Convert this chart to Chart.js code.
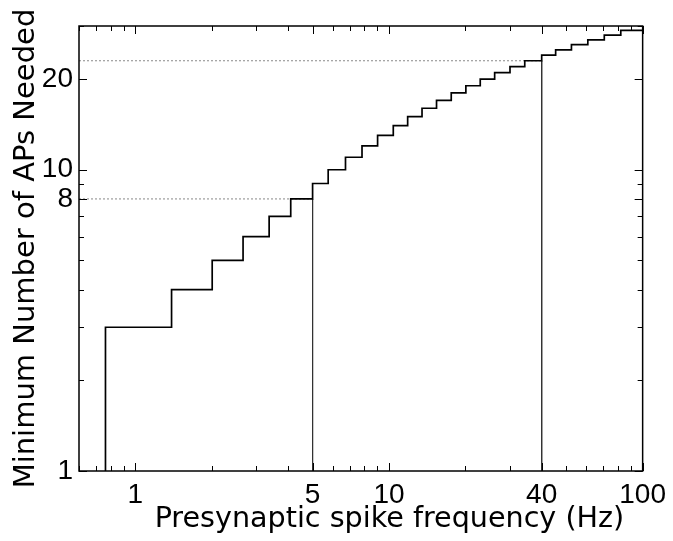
<!DOCTYPE html>
<html>
<head>
<meta charset="utf-8">
<script src="https://cdn.jsdelivr.net/npm/chart.js@4/dist/chart.umd.min.js"></script>
<style>
  body { margin: 0; background: #fff; }
  #apChart { display: block; }
</style>
</head>
<body>
<canvas id="apChart" width="673" height="541"></canvas>
<script>
// Frequency (Hz) at which the required AP count steps up, and the new count
const stepFreqs = [0.763, 0.763, 1.39, 2.01, 2.66, 3.37, 4.10, 5.0, 5.76, 6.74, 7.83, 9.02,
  10.4, 11.85, 13.5, 15.4, 17.6, 20.1, 22.9, 26.1, 30.0, 34.3, 40.0, 45.4, 52.4, 60.8,
  70.6, 82.0, 95.3, 100];
const apCounts = [1, 2, 3, 4, 5, 6, 7, 8, 9, 10, 11, 12, 13, 14, 15, 16, 17, 18, 19, 20,
  21, 22, 23, 24, 25, 26, 27, 28, 29, 29];

// marked operating points (5 Hz -> 8 APs, 40 Hz -> 23 APs)
const refFreqs = [5, 40];
const refCounts = [8, 23];

const xTickLabels = [1, 5, 10, 40, 100];
const yTickLabels = [1, 8, 10, 20];
const xRange = [0.6, 100];
const yRange = [1, 30];

const TICK_FONT = "'Liberation Sans', Arial, Helvetica, sans-serif";
const TITLE_FONT = "'DejaVu Sans', 'Liberation Sans', sans-serif";

const stepData = stepFreqs.map((f, i) => ({ x: f, y: apCounts[i] }));

const refDatasets = refFreqs.map((f, i) => ({
  data: [{ x: xRange[0], y: refCounts[i] }, { x: f, y: refCounts[i] }, { x: f, y: yRange[0] }],
  borderColor: '#333',
  borderWidth: 1,
  pointRadius: 0,
  segment: {
    borderDash: ctx => ctx.p0.parsed.y === ctx.p1.parsed.y ? [2, 2] : undefined,
    borderColor: ctx => ctx.p0.parsed.y === ctx.p1.parsed.y ? '#888' : '#333'
  }
}));

// inward tick marks on all four sides plus the axes box
const boxTicks = {
  id: 'boxTicks',
  afterDatasetsDraw(chart) {
    const { ctx, chartArea: a, scales: { x, y } } = chart;
    ctx.save();
    ctx.strokeStyle = '#000';
    ctx.lineWidth = 1;
    ctx.beginPath();
    for (let d = -1; d <= 2; d++) {
      for (let k = 1; k <= 9; k++) {
        const v = k * Math.pow(10, d);
        if (v >= xRange[0] && v <= xRange[1]) {
          const px = Math.round(x.getPixelForValue(v)) + 0.5;
          const len = xTickLabels.includes(v) ? 8 : 5;
          ctx.moveTo(px, a.bottom); ctx.lineTo(px, a.bottom - len);
          ctx.moveTo(px, a.top); ctx.lineTo(px, a.top + len);
        }
        if (v >= yRange[0] && v <= yRange[1]) {
          const py = Math.round(y.getPixelForValue(v)) + 0.5;
          const len = yTickLabels.includes(v) ? 8 : 5;
          ctx.moveTo(a.left, py); ctx.lineTo(a.left + len, py);
          ctx.moveTo(a.right, py); ctx.lineTo(a.right - len, py);
        }
      }
    }
    ctx.stroke();
    ctx.lineWidth = 1.5;
    ctx.strokeRect(a.left, a.top, a.right - a.left, a.bottom - a.top);
    ctx.restore();
  }
};

new Chart(document.getElementById('apChart').getContext('2d'), {
  type: 'line',
  data: {
    datasets: [
      {
        data: stepData,
        stepped: 'after',
        borderColor: '#000',
        borderWidth: 1.7,
        pointRadius: 0,
        fill: false
      },
      ...refDatasets
    ]
  },
  options: {
    responsive: false,
    animation: false,
    devicePixelRatio: 1,
    layout: { padding: { top: 26, right: 27, left: 0, bottom: 0 } },
    plugins: { legend: { display: false }, tooltip: { enabled: false } },
    scales: {
      x: {
        type: 'logarithmic',
        min: xRange[0],
        max: xRange[1],
        grid: { display: false, drawTicks: false },
        border: { display: false },
        afterBuildTicks: s => { s.ticks = xTickLabels.map(v => ({ value: v })); },
        afterFit: s => { s.height = 70; },
        ticks: {
          autoSkip: false,
          maxRotation: 0,
          padding: 7,
          color: '#000',
          font: { family: TICK_FONT, size: 28 },
          callback: v => String(v)
        },
        title: {
          display: true,
          // the label sits right of the axis centre in the original
          text: '\u2003\u2003Presynaptic spike frequency (Hz)',
          color: '#000',
          font: { family: TITLE_FONT, size: 28.6 },
          padding: { top: 0, bottom: 4.4 }
        }
      },
      y: {
        type: 'logarithmic',
        min: yRange[0],
        max: yRange[1],
        grid: { display: false, drawTicks: false },
        border: { display: false },
        afterBuildTicks: s => { s.ticks = yTickLabels.map(v => ({ value: v })); },
        afterFit: s => { s.width = 79; },
        ticks: {
          autoSkip: false,
          padding: 6,
          color: '#000',
          font: { family: TICK_FONT, size: 28 },
          callback: v => String(v)
        },
        title: {
          display: true,
          text: 'Minimum Number of APs Needed',
          color: '#000',
          font: { family: TITLE_FONT, size: 29 },
          padding: { top: 9, bottom: 0 }
        }
      }
    }
  },
  plugins: [boxTicks]
});
</script>
</body>
</html>
